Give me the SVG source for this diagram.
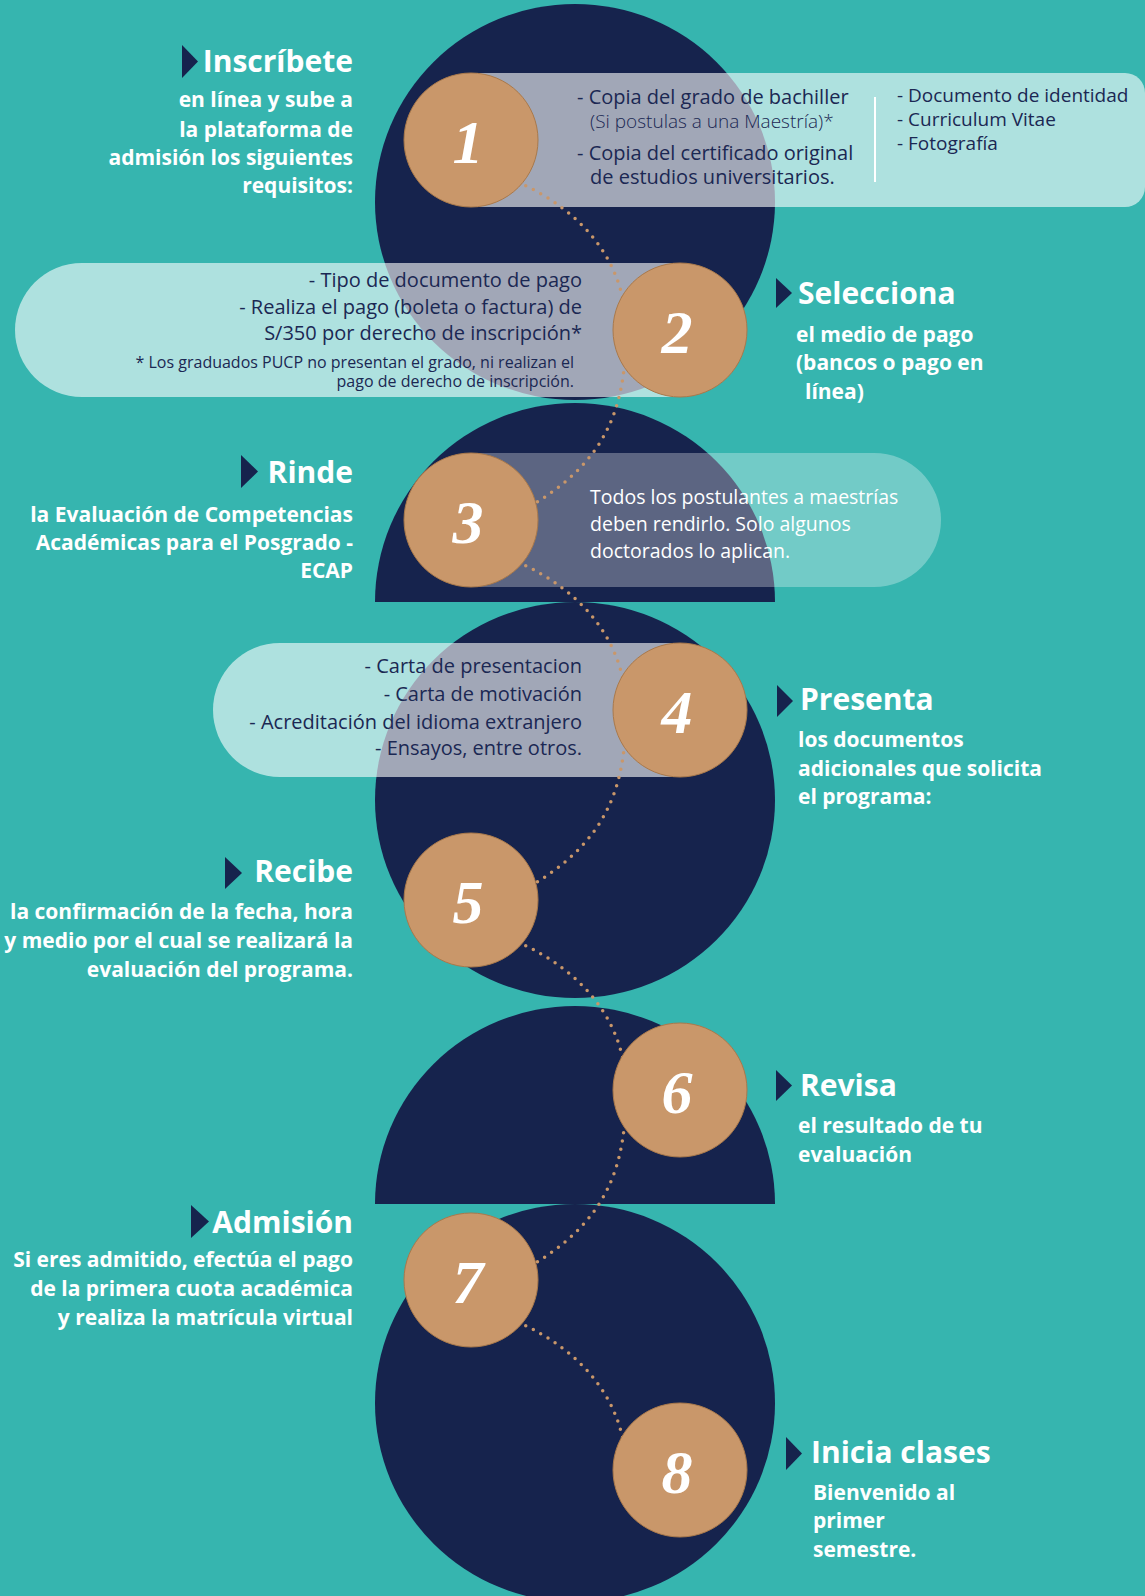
<svg xmlns="http://www.w3.org/2000/svg" width="1145" height="1596" viewBox="0 0 1145 1596">
<style>
.navy{fill:#16234D}
.pill{fill:#FFFFFF;fill-opacity:0.6}
.pill3{fill:#FFFFFF;fill-opacity:0.3}
.dots{fill:none;stroke:#C9976A;stroke-width:3.5;stroke-linecap:round;stroke-dasharray:0 8.5}
.oc{fill:#C9976A;stroke:#A9794B;stroke-width:1}
.num{font-family:"Liberation Serif","DejaVu Serif",serif;font-style:italic;font-weight:bold;font-size:62px;fill:#FFFFFF;text-anchor:middle}
.tri{fill:#16234D}
.title{font-family:"Open Sans","Liberation Sans",sans-serif;font-weight:700;font-size:30px;fill:#FFFFFF}
.body{font-family:"Open Sans","Liberation Sans",sans-serif;font-weight:700;font-size:21px;fill:#FFFFFF}
.end{text-anchor:end}
.pt{font-family:"Open Sans","Liberation Sans",sans-serif;font-weight:500;font-size:20px;fill:#1B2853}
.sm{font-size:19px}
.lt{font-weight:300}
.note{font-family:"Open Sans","Liberation Sans",sans-serif;font-weight:400;font-size:16px;fill:#1B2853}
.wt{font-family:"Open Sans","Liberation Sans",sans-serif;font-weight:500;font-size:19.5px;fill:#FFFFFF}
</style>
<rect x="0" y="0" width="1145" height="1596" fill="#36B5AF"/>
<g id="backdrop">
<ellipse class="navy" cx="575" cy="202" rx="200" ry="198"/>
<path class="navy" d="M375 602 A200 199 0 0 1 775 602 Z"/>
<ellipse class="navy" cx="575" cy="800" rx="200" ry="198"/>
<path class="navy" d="M375 1204 A200 198 0 0 1 775 1204 Z"/>
<ellipse class="navy" cx="575" cy="1403" rx="200" ry="199"/>
</g>
<g id="pills">
<path class="pill" d="M471 73 H1125 A20 20 0 0 1 1145 93 V187 A20 20 0 0 1 1125 207 H471 Z"/>
<path class="pill" d="M680 263 H82 A67 67 0 0 0 82 397 H680 Z"/>
<path class="pill3" d="M471 453 H874 A67 67 0 0 1 874 587 H471 Z"/>
<path class="pill" d="M680 643 H280 A67 67 0 0 0 280 777 H680 Z"/>
<line x1="875" y1="97" x2="875" y2="182" stroke="#FFFFFF" stroke-width="2"/>
</g>
<g id="connectors">
<path class="dots" d="M518 182 C580 210 626 260 626 330"/>
<path class="dots" d="M626 330 C626 410 606 465 520 512"/>
<path class="dots" d="M518 562 C580 590 626 640 626 710"/>
<path class="dots" d="M626 710 C626 790 606 845 520 892"/>
<path class="dots" d="M518 942 C580 970 626 1020 626 1090"/>
<path class="dots" d="M626 1090 C626 1170 606 1225 520 1272"/>
<path class="dots" d="M518 1322 C580 1350 626 1400 626 1470"/>
</g>
<g id="step1">
<circle class="oc" cx="471" cy="140" r="67"/>
<text class="num" x="468" y="163">1</text>
<polygon class="tri" points="182,45 198,61.5 182,78"/>
<text class="title end" x="353" y="72">Inscríbete</text>
<text class="body end" x="353" y="107">en línea y sube a</text>
<text class="body end" x="353" y="137">la plataforma de</text>
<text class="body end" x="353" y="165">admisión los siguientes</text>
<text class="body end" x="353" y="193">requisitos:</text>
<text class="pt" x="577" y="104">- Copia del grado de bachiller</text>
<text class="pt lt sm" x="590" y="128">(Si postulas a una Maestría)*</text>
<text class="pt" x="577" y="160">- Copia del certificado original</text>
<text class="pt" x="590" y="184">de estudios universitarios.</text>
<text class="pt sm" x="897" y="102">- Documento de identidad</text>
<text class="pt sm" x="897" y="126">- Curriculum Vitae</text>
<text class="pt sm" x="897" y="150">- Fotografía</text>
</g>
<g id="step2">
<circle class="oc" cx="680" cy="330" r="67"/>
<text class="num" x="677" y="353">2</text>
<polygon class="tri" points="776,278 792,293 776,308"/>
<text class="title" x="798" y="304">Selecciona</text>
<text class="body" x="796" y="342">el medio de pago</text>
<text class="body" x="796" y="370">(bancos o pago en</text>
<text class="body" x="805" y="399">línea)</text>
<text class="pt end" x="582" y="287">- Tipo de documento de pago</text>
<text class="pt end" x="582" y="314">- Realiza el pago (boleta o factura) de</text>
<text class="pt end" x="582" y="340">S/350 por derecho de inscripción*</text>
<text class="note end" x="574" y="368">* Los graduados PUCP no presentan el grado, ni realizan el</text>
<text class="note end" x="574" y="387">pago de derecho de inscripción.</text>
</g>
<g id="step3">
<circle class="oc" cx="471" cy="520" r="67"/>
<text class="num" x="468" y="543">3</text>
<polygon class="tri" points="241,455 258,471.5 241,488"/>
<text class="title end" x="353" y="483">Rinde</text>
<text class="body end" x="353" y="522">la Evaluación de Competencias</text>
<text class="body end" x="353" y="550">Académicas para el Posgrado -</text>
<text class="body end" x="353" y="578">ECAP</text>
<text class="wt" x="590" y="504">Todos los postulantes a maestrías</text>
<text class="wt" x="590" y="531">deben rendirlo. Solo algunos</text>
<text class="wt" x="590" y="558">doctorados lo aplican.</text>
</g>
<g id="step4">
<circle class="oc" cx="680" cy="710" r="67"/>
<text class="num" x="677" y="733">4</text>
<polygon class="tri" points="777,685 793,701 777,717"/>
<text class="title" x="800" y="710">Presenta</text>
<text class="body" x="798" y="747">los documentos</text>
<text class="body" x="798" y="776">adicionales que solicita</text>
<text class="body" x="798" y="804">el programa:</text>
<text class="pt end" x="582" y="673">- Carta de presentacion</text>
<text class="pt end" x="582" y="701">- Carta de motivación</text>
<text class="pt end" x="582" y="729">- Acreditación del idioma extranjero</text>
<text class="pt end" x="582" y="755">- Ensayos, entre otros.</text>
</g>
<g id="step5">
<circle class="oc" cx="471" cy="900" r="67"/>
<text class="num" x="468" y="923">5</text>
<polygon class="tri" points="225,857 242,873 225,889"/>
<text class="title end" x="353" y="882">Recibe</text>
<text class="body end" x="353" y="919">la confirmación de la fecha, hora</text>
<text class="body end" x="353" y="948">y medio por el cual se realizará la</text>
<text class="body end" x="353" y="977">evaluación del programa.</text>
</g>
<g id="step6">
<circle class="oc" cx="680" cy="1090" r="67"/>
<text class="num" x="677" y="1113">6</text>
<polygon class="tri" points="776,1070 792,1085.5 776,1101"/>
<text class="title" x="800" y="1096">Revisa</text>
<text class="body" x="798" y="1133">el resultado de tu</text>
<text class="body" x="798" y="1162">evaluación</text>
</g>
<g id="step7">
<circle class="oc" cx="471" cy="1280" r="67"/>
<text class="num" x="468" y="1303">7</text>
<polygon class="tri" points="191,1205 209,1221.5 191,1238"/>
<text class="title end" x="353" y="1233">Admisión</text>
<text class="body end" x="353" y="1267">Si eres admitido, efectúa el pago</text>
<text class="body end" x="353" y="1296">de la primera cuota académica</text>
<text class="body end" x="353" y="1325">y realiza la matrícula virtual</text>
</g>
<g id="step8">
<circle class="oc" cx="680" cy="1470" r="67"/>
<text class="num" x="677" y="1493">8</text>
<polygon class="tri" points="786,1437 802,1453.5 786,1470"/>
<text class="title" x="811" y="1463">Inicia clases</text>
<text class="body" x="813" y="1500">Bienvenido al</text>
<text class="body" x="813" y="1528">primer</text>
<text class="body" x="813" y="1557">semestre.</text>
</g>
</svg>
